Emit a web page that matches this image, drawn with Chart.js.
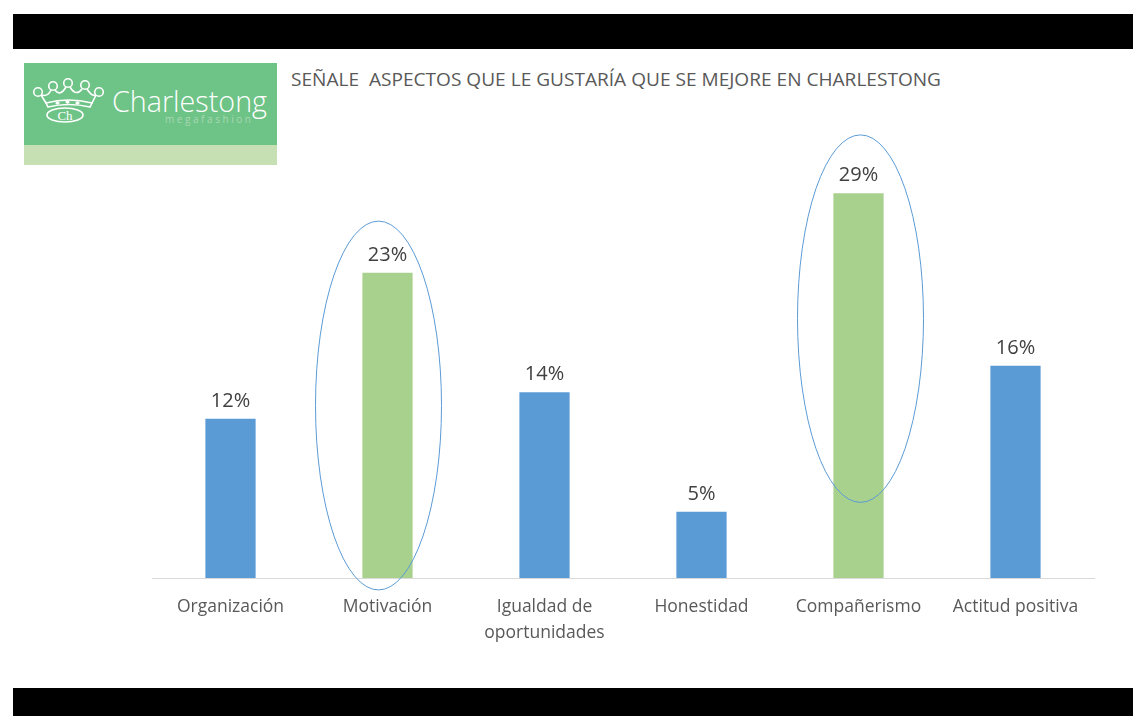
<!DOCTYPE html>
<html>
<head>
<meta charset="utf-8">
<script src="https://cdn.jsdelivr.net/npm/chart.js@4"></script>
<style>
  html, body { margin: 0; padding: 0; background: #fff; }
  #page { position: relative; width: 1133px; height: 716px; overflow: hidden; }
  .band { position: absolute; left: 13px; right: 0; background: #000; }
  #title {
    position: absolute; left: 291px; top: 66px;
    font-family: "Open Sans", sans-serif; font-size: 19px; color: #595959;
    white-space: pre; transform-origin: left top;
  }
  #logo { position: absolute; left: 24px; top: 63px; }
  #chart { position: absolute; left: 0; top: 0; }
</style>
</head>
<body>
<div id="page">
  <div class="band" style="top:14px;height:35px"></div>
  <div class="band" style="top:688px;height:28px"></div>

  <svg id="logo" width="253" height="102" viewBox="0 0 253 102">
    <rect x="0" y="0" width="253" height="82" fill="#6ec386"/>
    <rect x="0" y="82" width="253" height="20" fill="#c6e0b3"/>
    <g fill="none" stroke="#fff" stroke-width="1.6">
      <!-- crown jewels -->
      <circle cx="14" cy="29" r="4.3"/>
      <circle cx="29" cy="23" r="4.3"/>
      <circle cx="44" cy="20" r="4.3"/>
      <circle cx="61" cy="22" r="4.3"/>
      <circle cx="75" cy="29" r="4.3"/>
      <!-- crown body -->
      <path d="M17 32 Q24 34 27 27 M31 27 Q36 34 42 24 M46 24 Q52 34 58 26 M63 26 Q68 34 72 32"/>
      <path d="M17 32 L22 40 Q44 34 68 40 L72 32"/>
      <path d="M22 40 L24 44 Q44 39 66 44 L68 40"/>
      <ellipse cx="41" cy="52" rx="18" ry="7"/>
    </g>
    <g fill="#fff">
      <path d="M31 40 l2.5 -2 l2.5 2 l-2.5 2 z"/>
      <path d="M41 39 l2.5 -2 l2.5 2 l-2.5 2 z"/>
      <path d="M51 40 l2.5 -2 l2.5 2 l-2.5 2 z"/>
      <text x="41" y="57" font-family="Liberation Serif, serif" font-size="13" text-anchor="middle">Ch</text>
      <text x="88" y="49" font-family="Open Sans, sans-serif" font-size="30" font-weight="300"
            textLength="155" lengthAdjust="spacingAndGlyphs">Charlestong</text>
    </g>
    <text x="141" y="60" font-family="Open Sans, sans-serif" font-size="10" fill="#a8d8b4"
          textLength="86" lengthAdjust="spacing">megafashion</text>
  </svg>

  <div id="title">SEÑALE  ASPECTOS QUE LE GUSTARÍA QUE SE MEJORE EN CHARLESTONG</div>

  <canvas id="chart" width="1133" height="716"></canvas>
</div>

<script>
const categories = ['Organización', 'Motivación', ['Igualdad de', 'oportunidades'], 'Honestidad', 'Compañerismo', 'Actitud positiva'];
const percentages = [12, 23, 14, 5, 29, 16];
const highlighted = [1, 4];
// ellipse extents in value units: [category, top, bottom]
const circled = [[1, 26.9, -0.9], [4, 33.4, 5.7]];

const blue = '#5b9bd5';
const green = '#a9d18e';

// stretch the heading to its slide width
const title = document.getElementById('title');
title.style.transform = 'scaleX(' + (650 / title.getBoundingClientRect().width) + ')';

const valueLabels = {
  id: 'valueLabels',
  afterDatasetsDraw(chart) {
    const ctx = chart.ctx;
    const meta = chart.getDatasetMeta(0);
    ctx.save();
    ctx.font = '20px "Open Sans", sans-serif';
    ctx.fillStyle = '#404040';
    ctx.textAlign = 'center';
    ctx.textBaseline = 'alphabetic';
    meta.data.forEach((bar, i) => {
      ctx.fillText(percentages[i] + '%', bar.x, bar.y - 12);
    });
    ctx.restore();
  }
};

const ellipses = {
  id: 'ellipses',
  afterDraw(chart) {
    const { ctx, scales: { x, y } } = chart;
    const shift = { 1: -9, 4: 2 };
    ctx.save();
    ctx.strokeStyle = blue;
    ctx.lineWidth = 1;
    circled.forEach(([idx, top, bottom]) => {
      const t = y.getPixelForValue(top);
      const b = y.getPixelForValue(bottom);
      ctx.beginPath();
      ctx.ellipse(x.getPixelForValue(idx) + shift[idx], (t + b) / 2, 63, (b - t) / 2, 0, 0, Math.PI * 2);
      ctx.stroke();
    });
    ctx.restore();
  }
};

new Chart(document.getElementById('chart'), {
  type: 'bar',
  data: {
    labels: categories,
    datasets: [{
      data: percentages,
      backgroundColor: percentages.map((v, i) => highlighted.includes(i) ? green : blue),
      barPercentage: 0.32,
      categoryPercentage: 1
    }]
  },
  options: {
    responsive: false,
    animation: false,
    layout: { padding: { left: 152, right: 39, top: 180, bottom: 58 } },
    plugins: { legend: { display: false }, tooltip: { enabled: false } },
    scales: {
      x: {
        grid: { display: false },
        border: { color: '#d9d9d9', width: 1 },
        ticks: {
          color: '#595959',
          font: { family: '"Open Sans", sans-serif', size: 17.5, lineHeight: 1.43 },
          padding: 9,
          maxRotation: 0,
          autoSkip: false
        },
        afterFit(scale) { scale.height = 80; }
      },
      y: { display: false, min: 0, max: 30 }
    }
  },
  plugins: [valueLabels, ellipses]
});
</script>
</body>
</html>
